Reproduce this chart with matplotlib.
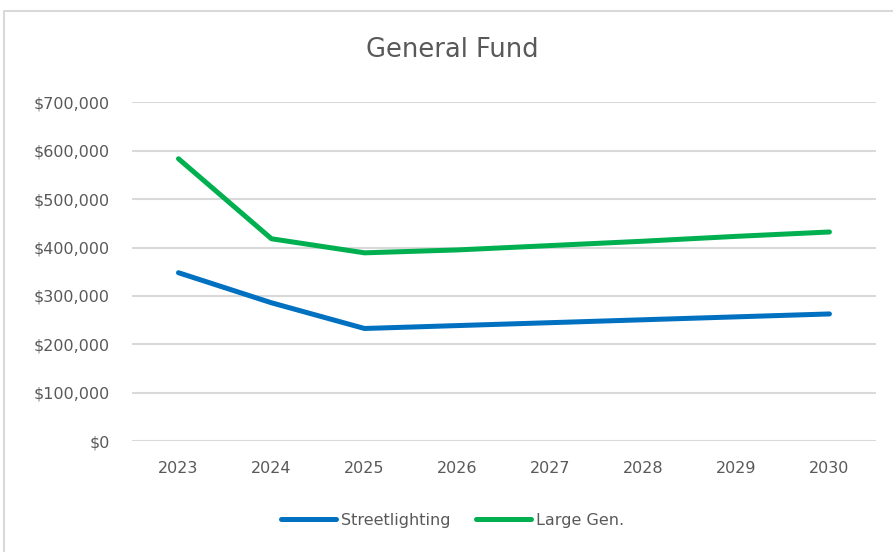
import matplotlib.pyplot as plt
from matplotlib.lines import Line2D
from matplotlib.ticker import FuncFormatter, MultipleLocator

# values
years = ['2023', '2024', '2025', '2026', '2027', '2028', '2029', '2030']
streetlighting = [348000, 286000, 233000, 239000, 245000, 251000, 257000, 263000]
large_gen = [583000, 418000, 389000, 395000, 404000, 413000, 423000, 432000]

text_color = '#595959'
grid_color = '#d9d9d9'

fig = plt.figure(figsize=(8.93, 5.52), dpi=100)
ax = fig.add_axes([0.1478, 0.2002, 0.8331, 0.615])

# outer chart border (only left and top edges visible)
bx = 3.5 / 893
by = 1 - 10.5 / 552
fig.add_artist(Line2D([bx, bx, 1.01], [-0.01, by, by], transform=fig.transFigure,
                      color='#d9d9d9', linewidth=1.5))

x = range(len(years))
ax.plot(x, streetlighting, color='#0070C0', linewidth=3.6,
        solid_capstyle='round', solid_joinstyle='round', label='Streetlighting')
ax.plot(x, large_gen, color='#00B050', linewidth=3.6,
        solid_capstyle='round', solid_joinstyle='round', label='Large Gen.')

ax.set_xlim(-0.5, len(years) - 0.5)
ax.set_ylim(0, 700000)
ax.set_xticks(list(x))
ax.set_xticklabels(years)
ax.yaxis.set_major_locator(MultipleLocator(100000))
ax.yaxis.set_major_formatter(FuncFormatter(lambda v, p: f'${v:,.0f}'))

ax.grid(axis='y', color=grid_color, linewidth=1.5)
ax.set_axisbelow(True)
for s in ax.spines.values():
    s.set_visible(False)
ax.tick_params(axis='both', length=0, labelsize=11.5, labelcolor=text_color)
ax.tick_params(axis='y', pad=16)
ax.tick_params(axis='x', pad=14)

fig.text(0.507, 0.909, 'General Fund', ha='center', va='center',
         fontsize=18.5, color=text_color)

leg = fig.legend(loc='center', bbox_to_anchor=(0.507, 0.057), ncol=2,
                 frameon=False, fontsize=11.5, handlelength=3.4,
                 handletextpad=0.35, columnspacing=1.6)
for t in leg.get_texts():
    t.set_color(text_color)

fig.savefig('out.png', dpi=100)
